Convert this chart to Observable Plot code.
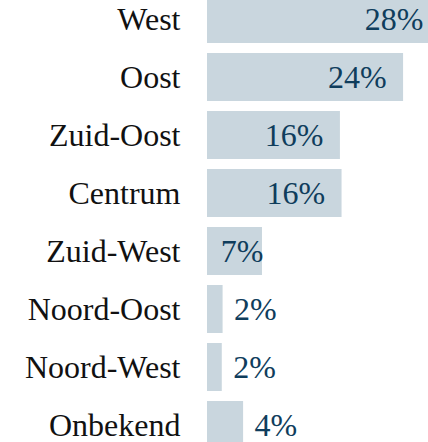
<!DOCTYPE html>
<html>
<head>
<meta charset="utf-8">
<script src="https://cdn.jsdelivr.net/npm/d3@7"></script>
<script src="https://cdn.jsdelivr.net/npm/@observablehq/plot@0.6"></script>
<style>
  html, body { margin: 0; padding: 0; background: #fff; overflow: hidden; }
</style>
</head>
<body>
<div id="chart"></div>
<script>
const regions = ["West", "Oost", "Zuid-Oost", "Centrum", "Zuid-West", "Noord-Oost", "Noord-West", "Onbekend"];
const shares = [28.4, 23.9, 16.2, 16.4, 6.7, 1.9, 1.8, 4.4];

const data = regions.map((r, i) => ({region: r, share: shares[i], label: Math.round(shares[i]) + "%"}));

const font = "'Liberation Serif', serif";
const barColor = "#c9d6de";
const valueColor = "#0f3d5c";
const fs = 32;

const chart = Plot.plot({
  width: 428,
  height: 442,
  marginLeft: 207,
  marginRight: -12,
  marginTop: -10,
  marginBottom: -12,
  style: {fontFamily: font, overflow: "hidden", background: "#fff"},
  x: {axis: null},
  y: {axis: null, domain: regions, paddingInner: 10 / 58, paddingOuter: 5 / 58},
  marks: [
    Plot.barX(data, {y: "region", x: "share", fill: barColor}),
    Plot.text(data, {y: "region", x: 0, text: "region", textAnchor: "end", dx: -27, fontSize: fs, fill: "#111"}),
    Plot.text(data.filter(d => d.share >= 10), {y: "region", x: "share", text: "label", textAnchor: "end", dx: -17, fontSize: fs, fill: valueColor}),
    Plot.text(data.filter(d => d.share >= 5 && d.share < 10), {y: "region", x: "share", text: "label", textAnchor: "end", dx: 1, fontSize: fs, fill: valueColor}),
    Plot.text(data.filter(d => d.share < 5), {y: "region", x: "share", text: "label", textAnchor: "start", dx: 11, fontSize: fs, fill: valueColor})
  ]
});
document.getElementById("chart").append(chart);
</script>
</body>
</html>
